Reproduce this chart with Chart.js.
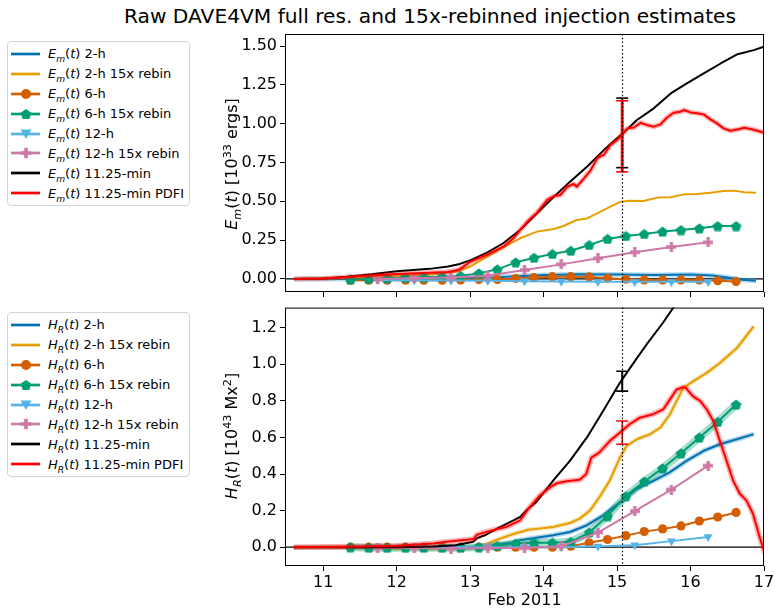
<!DOCTYPE html>
<html><head><meta charset="utf-8">
<script src="https://cdn.jsdelivr.net/npm/chart.js@4.4.0/dist/chart.umd.min.js"></script>
<style>
html,body{margin:0;padding:0;background:#fff}
body{width:775px;height:610px;position:relative;overflow:hidden;font-family:"DejaVu Sans",sans-serif;color:#000}
canvas{position:absolute;left:0}
#title{position:absolute;top:4px;left:0;width:860px;text-align:center;font-size:20.2px;white-space:nowrap}
.ylab{position:absolute;font-size:16px;white-space:nowrap;transform:translate(-50%,-50%) rotate(-90deg);line-height:1}
.leg{position:absolute;left:7px;width:183px;border:1px solid #d4d4d4;border-radius:4px;background:#fff;padding:2px 0;box-sizing:border-box}
.row{height:19.9px;display:flex;align-items:center;font-size:13px;white-space:nowrap}
.row svg{margin-left:3px;margin-right:8px;flex:none}
sub,sup{font-size:70%;line-height:0}
</style></head>
<body>
<div id="title">Raw DAVE4VM full res. and 15x-rebinned injection estimates</div>
<canvas id="c1" width="775" height="300" style="top:0"></canvas>
<canvas id="c2" width="775" height="310" style="top:300px"></canvas>
<div class="ylab" style="left:232px;top:164px"><i>E</i><sub><i>m</i></sub>(<i>t</i>) [10<sup>33</sup> ergs]</div>
<div class="ylab" style="left:232px;top:436px"><i>H</i><sub><i>R</i></sub>(<i>t</i>) [10<sup>43</sup> Mx<sup>2</sup>]</div>
<div class="leg" id="leg1" style="top:41px"></div>
<div class="leg" id="leg2" style="top:312px"></div>
<script>
// ---------------- data ----------------
const X_MIN = 10.48, X_MAX = 17.0;
const X_TICKS = [11, 12, 13, 14, 15, 16, 17];
const EM_TICKS = [0, 0.25, 0.5, 0.75, 1.0, 1.25, 1.5];
const HR_TICKS = [0, 0.2, 0.4, 0.6, 0.8, 1.0, 1.2];
const EM_RANGE = [-0.084, 1.578];
const HR_RANGE = [-0.103, 1.31];
const VLINE_X = 15.07;

const SERIES_NAMES = ['2-h', '2-h 15x rebin', '6-h', '6-h 15x rebin', '12-h', '12-h 15x rebin', '11.25-min', '11.25-min PDFI'];

// 6-h and 12-h sample times (days of Feb 2011)
const T6 = [11.37, 11.62, 11.87, 12.12, 12.37, 12.62, 12.87, 13.12, 13.37, 13.62, 13.87, 14.12, 14.37, 14.62, 14.87, 15.12, 15.37, 15.62, 15.87, 16.12, 16.37, 16.62];
const T12 = [11.74, 12.24, 12.74, 13.24, 13.74, 14.24, 14.74, 15.24, 15.74, 16.24];

// ---- E_m(t) panel ----
const T_EM_2H = [10.6, 12.5, 13.0, 13.5, 14.0, 14.5, 15.0, 15.5, 16.0, 16.3, 16.5, 16.7, 16.89];
const EM_2H = [0, 0.0, 0.005, 0.015, 0.025, 0.03, 0.028, 0.026, 0.028, 0.022, 0.01, -0.005, -0.012];
const T_EM_2H_RB = [10.6, 11.5, 12.0, 12.5, 12.8, 13.0, 13.23, 13.45, 13.68, 13.91, 14.14, 14.27, 14.45, 14.59, 14.73, 14.91, 15.05, 15.18, 15.36, 15.55, 15.73, 15.91, 16.09, 16.27, 16.45, 16.59, 16.73, 16.89];
const EM_2H_RB = [0, 0.008, 0.02, 0.03, 0.045, 0.079, 0.144, 0.204, 0.262, 0.305, 0.322, 0.341, 0.38, 0.39, 0.423, 0.466, 0.498, 0.504, 0.502, 0.524, 0.526, 0.545, 0.547, 0.556, 0.567, 0.569, 0.558, 0.556];
const EM_6H = [-0.008, -0.008, -0.008, -0.008, -0.008, -0.008, -0.006, -0.004, -0.003, 0.003, 0.009, 0.015, 0.015, 0.013, 0.004, -0.002, -0.006, -0.006, -0.006, -0.006, -0.011, -0.017];
const EM_6H_RB = [-0.004, 0.0, 0.005, 0.01, 0.012, 0.015, 0.02, 0.036, 0.062, 0.107, 0.137, 0.161, 0.182, 0.219, 0.258, 0.277, 0.29, 0.305, 0.315, 0.326, 0.341, 0.341];
const EM_12H = [-0.006, -0.008, -0.01, -0.012, -0.014, -0.016, -0.018, -0.018, -0.018, -0.018];
const EM_12H_RB = [0.0, 0.005, 0.01, 0.021, 0.058, 0.094, 0.133, 0.172, 0.206, 0.236];
const T_EM_BLACK = [10.6, 11.0, 11.33, 11.66, 12.0, 12.45, 12.7, 12.86, 13.0, 13.23, 13.45, 13.68, 13.91, 14.14, 14.36, 14.59, 14.82, 15.0, 15.08, 15.27, 15.5, 15.73, 15.95, 16.18, 16.41, 16.64, 16.86, 17.0];
const EM_BLACK = [0, 0.003, 0.015, 0.03, 0.05, 0.065, 0.08, 0.097, 0.12, 0.17, 0.23, 0.315, 0.423, 0.53, 0.627, 0.723, 0.83, 0.906, 0.938, 1.024, 1.099, 1.195, 1.26, 1.324, 1.388, 1.448, 1.474, 1.496];
const T_EM_RED = [10.6, 11.0, 11.33, 11.66, 12.0, 12.45, 12.7, 12.85, 13.0, 13.23, 13.45, 13.59, 13.68, 13.8, 13.91, 14.05, 14.14, 14.23, 14.32, 14.41, 14.45, 14.55, 14.64, 14.73, 14.77, 14.82, 14.91, 15.0, 15.08, 15.14, 15.23, 15.32, 15.41, 15.5, 15.59, 15.68, 15.77, 15.86, 15.91, 16.0, 16.09, 16.18, 16.27, 16.36, 16.45, 16.54, 16.64, 16.73, 16.82, 16.91, 17.0];
const EM_RED = [0, 0.003, 0.012, 0.022, 0.032, 0.04, 0.045, 0.06, 0.11, 0.155, 0.208, 0.262, 0.315, 0.38, 0.427, 0.509, 0.534, 0.541, 0.594, 0.612, 0.594, 0.648, 0.70, 0.777, 0.79, 0.80, 0.863, 0.895, 0.938, 0.97, 0.976, 1.006, 0.991, 0.981, 0.996, 1.04, 1.071, 1.077, 1.088, 1.073, 1.067, 1.06, 1.028, 1.002, 0.97, 0.955, 0.963, 0.974, 0.966, 0.955, 0.942];
const EM_ERR_BLACK = [0.717, 1.165];
const EM_ERR_RED = [0.69, 1.148];

// ---- H_R(t) panel ----
const T_HR_2H = [10.6, 12.5, 13.0, 13.36, 13.59, 13.67, 13.79, 14.13, 14.36, 14.59, 14.81, 15.04, 15.27, 15.5, 15.72, 15.95, 16.18, 16.4, 16.63, 16.86];
const HR_2H = [0, 0, 0.0, 0.013, 0.025, 0.038, 0.045, 0.065, 0.083, 0.12, 0.174, 0.246, 0.319, 0.364, 0.41, 0.473, 0.527, 0.563, 0.59, 0.618];
const T_HR_2H_RB = [10.6, 11.1, 12.0, 12.9, 13.13, 13.36, 13.59, 13.79, 13.9, 14.13, 14.36, 14.49, 14.63, 14.76, 14.9, 15.04, 15.13, 15.27, 15.45, 15.59, 15.72, 15.9, 16.04, 16.22, 16.4, 16.63, 16.86];
const HR_2H_RB = [0, 0, -0.008, -0.01, 0.0, 0.04, 0.072, 0.095, 0.1, 0.11, 0.132, 0.156, 0.2, 0.273, 0.364, 0.49, 0.554, 0.59, 0.618, 0.654, 0.727, 0.871, 0.908, 0.953, 1.007, 1.089, 1.207];
const HR_6H = [0, 0, 0, 0, 0, 0, 0, 0, 0, 0, 0, 0, 0.005, 0.024, 0.042, 0.063, 0.085, 0.10, 0.116, 0.143, 0.165, 0.19];
const HR_6H_RB = [0, -0.003, -0.003, -0.003, -0.003, -0.003, -0.003, 0, 0.007, 0.02, 0.024, 0.024, 0.029, 0.08, 0.17, 0.279, 0.359, 0.431, 0.513, 0.60, 0.685, 0.78];
const HR_12H = [0.005, 0.005, 0, 0, 0, 0, 0.005, 0.011, 0.033, 0.056];
const HR_12H_RB = [-0.005, -0.005, -0.008, -0.005, -0.005, 0.005, 0.08, 0.197, 0.315, 0.446];
const T_HR_BLACK = [10.6, 12.0, 12.5, 12.8, 13.04, 13.1, 13.2, 13.36, 13.59, 13.68, 13.79, 13.9, 14.13, 14.36, 14.59, 14.81, 15.04, 15.27, 15.4, 15.63, 15.8, 16.0];
const HR_BLACK = [0, 0, 0.003, 0.01, 0.03, 0.05, 0.065, 0.1, 0.147, 0.165, 0.21, 0.246, 0.364, 0.473, 0.6, 0.745, 0.9, 1.034, 1.107, 1.23, 1.33, 1.44];
const T_HR_RED = [10.6, 11.5, 12.0, 12.5, 12.68, 12.95, 13.05, 13.09, 13.23, 13.5, 13.68, 13.81, 13.95, 14.09, 14.18, 14.31, 14.49, 14.58, 14.65, 14.76, 14.9, 15.04, 15.17, 15.31, 15.49, 15.63, 15.72, 15.81, 15.9, 15.94, 16.03, 16.13, 16.22, 16.31, 16.4, 16.49, 16.58, 16.67, 16.76, 16.85, 16.94, 17.01];
const HR_RED = [0, 0.003, 0.008, 0.02, 0.03, 0.04, 0.045, 0.067, 0.085, 0.112, 0.147, 0.219, 0.283, 0.328, 0.35, 0.36, 0.368, 0.4, 0.49, 0.518, 0.58, 0.627, 0.672, 0.708, 0.727, 0.754, 0.808, 0.862, 0.875, 0.87, 0.826, 0.80, 0.754, 0.69, 0.58, 0.473, 0.364, 0.292, 0.256, 0.183, 0.056, -0.034];
const HR_ERR_BLACK = [0.853, 0.962];
const HR_ERR_RED = [0.563, 0.69];

// ---------------- styles ----------------
const C_BLUE = '#0072B2', C_ORANGE = '#E69F00', C_VERM = '#D55E00', C_GREEN = '#009E73',
      C_SKY = '#56B4E9', C_PINK = '#CC79A7', C_BLACK = '#000000', C_RED = '#FF0000';
const COLORS = [C_BLUE, C_ORANGE, C_VERM, C_GREEN, C_SKY, C_PINK, C_BLACK, C_RED];
const MARKERS = [null, null, 'circle', 'pentagon', 'tri', 'plus', null, null];

function markerCanvas(shape, color, size) {
  const c = document.createElement('canvas'); c.width = size; c.height = size;
  const g = c.getContext('2d'); g.fillStyle = color; const h = size / 2;
  g.beginPath();
  if (shape === 'pentagon') {
    for (let k = 0; k < 5; k++) {
      const a = -Math.PI / 2 + k * 2 * Math.PI / 5;
      const px = h + h * Math.cos(a), py = h + 0.6 + h * Math.sin(a);
      k ? g.lineTo(px, py) : g.moveTo(px, py);
    }
  } else if (shape === 'plus') {
    const a = size / 3;
    g.rect(a, 0, a, size); g.rect(0, a, size, a);
  }
  g.closePath(); g.fill();
  return c;
}
const PENT = (c) => markerCanvas('pentagon', c, 11);
const PLUS = (c) => markerCanvas('plus', c, 10);

const pts = (xs, ys) => xs.map((x, i) => ({x: x, y: ys[i]}));

function line(xs, ys, color, w) {
  return {data: pts(xs, ys), borderColor: color, backgroundColor: color, borderWidth: w,
          pointRadius: 0, fill: false, tension: 0, spanGaps: true};
}
function halo(xs, ys, rgba, w) {
  return line(xs, ys, rgba, w);
}
function markerLine(xs, ys, color, shape) {
  const d = line(xs, ys, color, 2);
  if (shape === 'circle') { d.pointStyle = 'circle'; d.pointRadius = 4.6; d.pointBorderWidth = 0; }
  else if (shape === 'tri') { d.pointStyle = 'triangle'; d.pointRotation = 180; d.pointRadius = 5.2; d.pointBorderWidth = 0; }
  else if (shape === 'pentagon') { d.pointStyle = PENT(color); d.pointRadius = 5.5; }
  else if (shape === 'plus') { d.pointStyle = PLUS(color); d.pointRadius = 5; }
  return d;
}
function errBar(range, color, w) {
  return {data: [{x: VLINE_X, y: range[0]}, {x: VLINE_X, y: range[1]}], borderColor: color,
          backgroundColor: color, borderWidth: w, pointStyle: 'line', pointRadius: 6,
          pointBorderWidth: 1.6, pointBorderColor: color, fill: false};
}
function zeroLine() {
  return {data: [{x: X_MIN, y: 0}, {x: X_MAX, y: 0}], borderColor: '#000', borderWidth: 1.2,
          pointRadius: 0, fill: false};
}

// ---------------- plugins ----------------
const framePlugin = {
  id: 'frame',
  afterDatasetsDraw(chart) {
    const {ctx, chartArea: a, scales} = chart;
    const px = Math.round(scales.x.getPixelForValue(VLINE_X)) + 0.5;
    ctx.save();
    ctx.strokeStyle = '#000'; ctx.lineWidth = 1.2; ctx.setLineDash([1.5, 2.3]);
    ctx.beginPath(); ctx.moveTo(px, a.top); ctx.lineTo(px, a.bottom); ctx.stroke();
    ctx.setLineDash([]); ctx.lineWidth = 1;
    ctx.strokeRect(a.left + 0.5, a.top + 0.5, a.width - 1, a.height - 1);
    ctx.restore();
  }
};

function makeChart(canvasId, datasets, range, yTicks, yDigits, showX, padTop, xHeight) {
  datasets.forEach((d, i) => { d.order = datasets.length - i; });
  return new Chart(document.getElementById(canvasId), {
    type: 'line',
    data: {datasets: datasets},
    plugins: [framePlugin],
    options: {
      responsive: false, animation: false, devicePixelRatio: 1,
      layout: {padding: {left: 0, right: 11, top: padTop, bottom: 0}},
      plugins: {legend: {display: false}, tooltip: {enabled: false}, title: {display: false}},
      elements: {line: {borderCapStyle: 'butt', borderJoinStyle: 'round'}},
      scales: {
        x: {
          type: 'linear', min: X_MIN, max: X_MAX,
          afterBuildTicks: (s) => { s.ticks = X_TICKS.map(v => ({value: v})); },
          afterFit: (s) => { s.height = xHeight; s.paddingLeft = 0; s.paddingRight = 0; },
          ticks: {color: showX ? '#000' : 'rgba(0,0,0,0)', font: {family: 'DejaVu Sans', size: 16},
                  padding: 2, maxRotation: 0, callback: (v) => String(v)},
          grid: {display: true, drawOnChartArea: false, drawTicks: true, tickLength: 5, color: '#000', lineWidth: 1},
          border: {display: false},
          title: {display: showX, text: 'Feb 2011', color: '#000', font: {family: 'DejaVu Sans', size: 16},
                  padding: {top: 0, bottom: 0}}
        },
        y: {
          type: 'linear', min: range[0], max: range[1],
          afterBuildTicks: (s) => { s.ticks = yTicks.map(v => ({value: v})); },
          afterFit: (s) => { s.width = 285; s.paddingTop = 0; s.paddingBottom = 0; },
          ticks: {color: '#000', font: {family: 'DejaVu Sans', size: 16}, padding: 3,
                  callback: (v) => Number(v).toFixed(yDigits)},
          grid: {display: true, drawOnChartArea: false, drawTicks: true, tickLength: 5, color: '#000', lineWidth: 1},
          border: {display: false}
        }
      }
    }
  });
}

// ---------------- top chart ----------------
const ds1 = [
  zeroLine(),
  halo(T_EM_2H, EM_2H, 'rgba(86,180,233,0.45)', 5),
  line(T_EM_2H, EM_2H, C_BLUE, 2),
  line(T_EM_2H_RB, EM_2H_RB, C_ORANGE, 2),
  markerLine(T6, EM_6H, C_VERM, 'circle'),
  markerLine(T6, EM_6H_RB, C_GREEN, 'pentagon'),
  markerLine(T12, EM_12H, C_SKY, 'tri'),
  markerLine(T12, EM_12H_RB, C_PINK, 'plus'),
  line(T_EM_BLACK, EM_BLACK, C_BLACK, 2),
  halo(T_EM_RED, EM_RED, 'rgba(255,0,0,0.3)', 5),
  line(T_EM_RED, EM_RED, C_RED, 2),
  errBar(EM_ERR_BLACK, C_BLACK, 1.6),
  errBar(EM_ERR_RED, C_RED, 3)
];
makeChart('c1', ds1, EM_RANGE, EM_TICKS, 2, false, 34, 8);

// ---------------- bottom chart ----------------
const ds2 = [
  zeroLine(),
  halo(T_HR_2H, HR_2H, 'rgba(0,114,178,0.3)', 5),
  line(T_HR_2H, HR_2H, C_BLUE, 2),
  halo(T_HR_2H_RB, HR_2H_RB, 'rgba(230,159,0,0.3)', 4.5),
  line(T_HR_2H_RB, HR_2H_RB, C_ORANGE, 2),
  markerLine(T6, HR_6H, C_VERM, 'circle'),
  halo(T6, HR_6H_RB, 'rgba(0,158,115,0.35)', 8),
  markerLine(T6, HR_6H_RB, C_GREEN, 'pentagon'),
  markerLine(T12, HR_12H, C_SKY, 'tri'),
  markerLine(T12, HR_12H_RB, C_PINK, 'plus'),
  line(T_HR_BLACK, HR_BLACK, C_BLACK, 2),
  halo(T_HR_RED, HR_RED, 'rgba(255,0,0,0.3)', 5.5),
  line(T_HR_RED, HR_RED, C_RED, 2),
  errBar(HR_ERR_BLACK, C_BLACK, 2),
  errBar(HR_ERR_RED, C_RED, 1.5)
];
makeChart('c2', ds2, HR_RANGE, HR_TICKS, 1, true, 6, 44);

// ---------------- legends ----------------
function handleSvg(color, shape) {
  let m = '';
  if (shape === 'circle') m = `<circle cx="15" cy="7" r="5" fill="${color}"/>`;
  else if (shape === 'tri') m = `<polygon points="9.5,2.5 20.5,2.5 15,12" fill="${color}"/>`;
  else if (shape === 'plus') m = `<path d="M13.2,1.8h3.6v3.4h3.4v3.6h-3.4v3.4h-3.6v-3.4h-3.4v-3.6h3.4z" fill="${color}"/>`;
  else if (shape === 'pentagon') {
    const p = [];
    for (let k = 0; k < 5; k++) { const a = -Math.PI / 2 + k * 2 * Math.PI / 5; p.push((15 + 5.6 * Math.cos(a)).toFixed(2) + ',' + (7.5 + 5.6 * Math.sin(a)).toFixed(2)); }
    m = `<polygon points="${p.join(' ')}" fill="${color}"/>`;
  }
  return `<svg width="29" height="14" viewBox="0 0 29 14"><line x1="0" y1="7" x2="29" y2="7" stroke="${color}" stroke-width="2.7"/>${m}</svg>`;
}
function fillLegend(id, sym) {
  const el = document.getElementById(id);
  el.innerHTML = SERIES_NAMES.map((n, i) =>
    `<div class="row">${handleSvg(COLORS[i], MARKERS[i])}<span>${sym}(<i>t</i>) ${n}</span></div>`).join('');
}
fillLegend('leg1', '<i>E</i><sub><i>m</i></sub>');
fillLegend('leg2', '<i>H</i><sub><i>R</i></sub>');
</script>
</body></html>
